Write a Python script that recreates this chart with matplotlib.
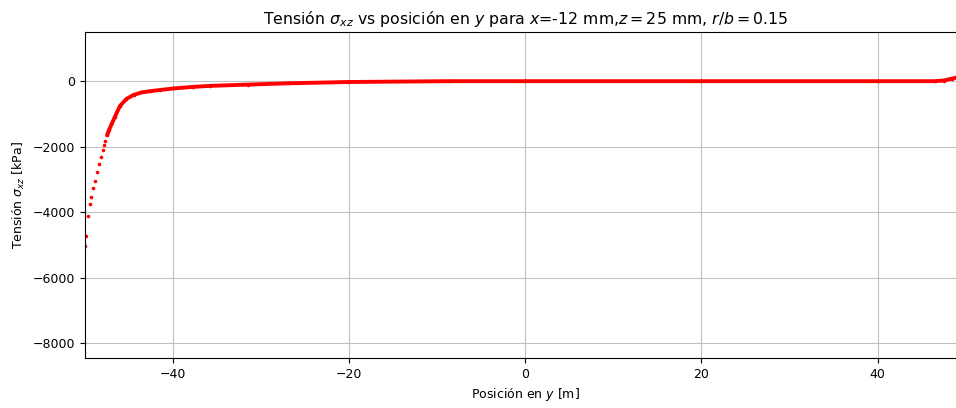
import numpy as np
import matplotlib.pyplot as plt

# posición en y [m] y tensión sigma_xz [kPa]
y_pos = [-49.97, -49.85, -49.62, -49.43, -49.28, -49.09, -48.86, -48.63,
         -48.41, -48.18, -48.0, -47.85, -47.7, -47.5, -47.3, -47.0,
         -46.6, -46.05, -45.3, -44.5, -43.6, -42.5, -41.5, -40.0,
         -37.7, -35.8, -31.5, -26.9, -20.1, -8.7, 0.0, 20.0,
         40.0, 46.5, 47.5, 48.5, 49.5, 50.0]
sigma_xz = [-5016, -4723, -4112, -3755, -3532, -3267, -3032, -2787,
            -2543, -2300, -2100, -1950, -1820, -1650, -1500, -1320,
            -1080, -760, -540, -420, -345, -300, -270, -223,
            -174, -143, -105, -65, -25, 0, 0, 0,
            0, 0, 20, 80, 150, 200]

y_pos = np.array(y_pos)
sigma_xz = np.array(sigma_xz)
dense = y_pos > -47.6

fig = plt.figure(figsize=(9.56, 4.08), dpi=100)
ax = fig.add_axes([0.089, 0.1225, 0.921, 0.799])

ax.plot(y_pos, sigma_xz, 'o', color='red', ms=2.6, mec='none')
ax.plot(y_pos[dense], sigma_xz[dense], '-', color='red', lw=2.8, solid_capstyle='round')

ax.set_xlim(-50, 50)
ax.set_ylim(-8450, 1500)
ax.set_xticks([-40, -20, 0, 20, 40])
ax.set_yticks([0, -2000, -4000, -6000, -8000])
ax.grid(True, color='#c0c0c0', lw=0.8)
ax.tick_params(labelsize=9)

ax.set_title(r'Tensión $\sigma_{xz}$ vs posición en $y$ para $x$=-12 mm,$z = 25$ mm, $r/b = 0.15$',
             fontsize=11.3)
ax.set_xlabel(r'Posición en $y$ [m]', fontsize=9)
ax.set_ylabel(r'Tensión $\sigma_{xz}$ [kPa]', fontsize=9)

fig.savefig('out.png', dpi=100)
